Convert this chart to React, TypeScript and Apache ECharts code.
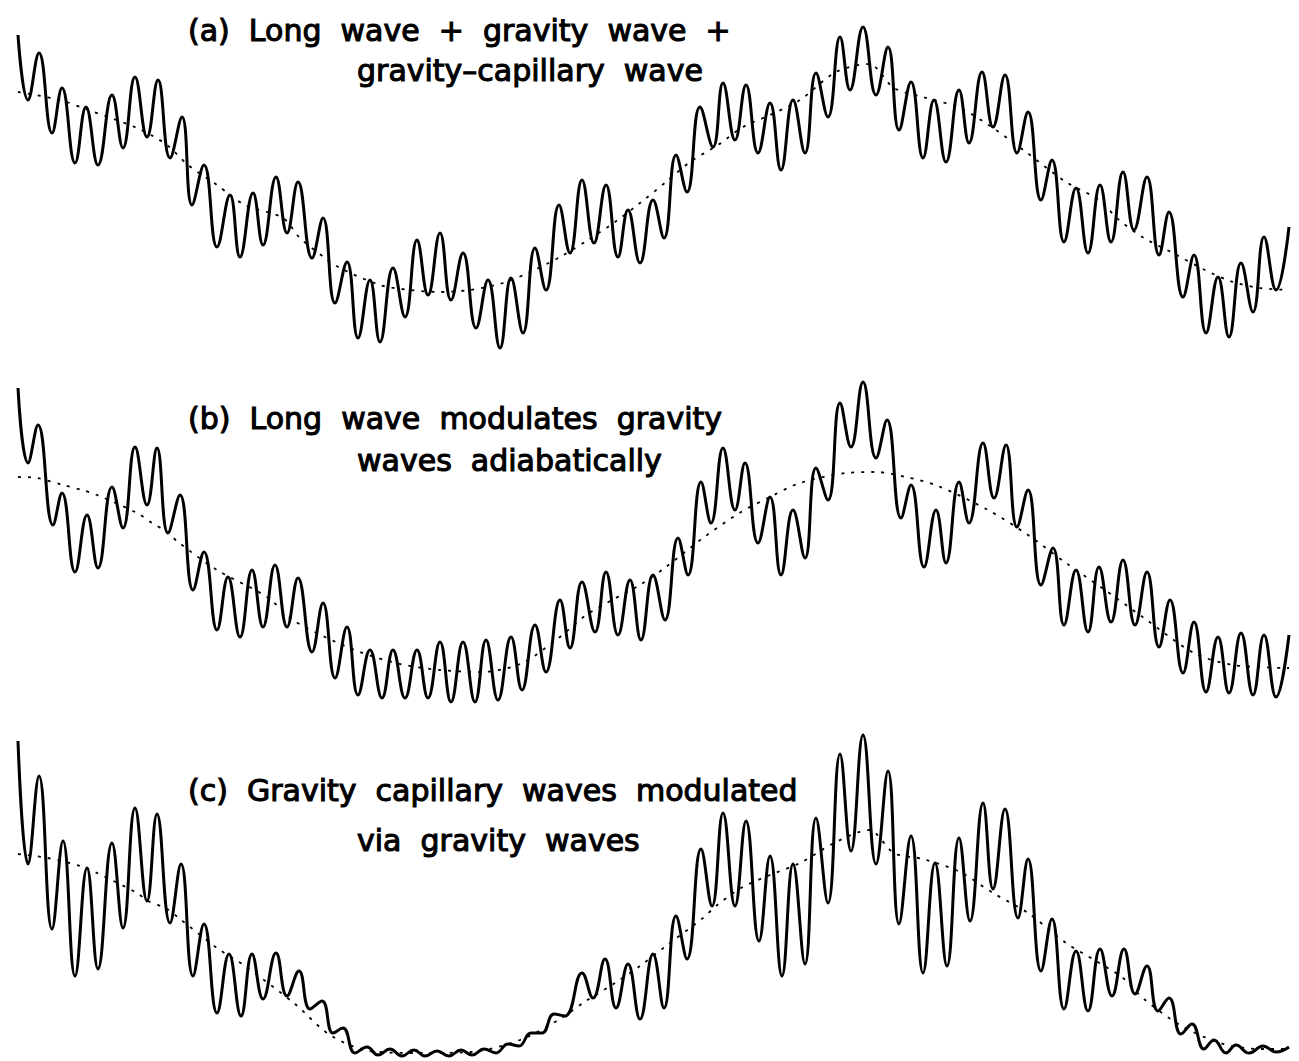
import React, { useEffect, useRef } from "react";
import * as echarts from "echarts";

// Panel (a): long wave + gravity wave + gravity-capillary wave (surface depth, downward units)
const solidA: [number, number][] = [
  [18,35],[28,100],[39,53],[52,133],[62,88],[75,163],[86,107],[98,165],[112,95],[123,148],[135,77],[147,137],[158,80],[170,158],[182,117],[192,205],[204,165],[217,247],[230,195],[240,257],[253,193],[263,245],[276,177],[287,233],[298,182],[312,258],[323,218],[335,303],[347,262],[358,338],[370,280],[380,342],[393,268],[405,317],[417,240],[428,295],[440,233],[451,300],[463,253],[476,328],[488,280],[500,348],[511,278],[523,333],[535,248],[546,290],[559,205],[570,253],[582,180],[594,243],[606,185],[618,257],[628,210],[640,263],[653,200],[664,238],[676,155],[687,192],[700,107],[713,147],[723,83],[735,140],[746,85],[758,153],[770,103],[781,170],[793,100],[805,153],[816,73],[828,117],[840,37],[850,90],[863,27],[876,95],[888,47],[899,130],[911,82],[923,158],[934,100],[946,162],[959,90],[969,143],[982,72],[993,127],[1005,75],[1017,153],[1028,112],[1041,200],[1052,160],[1064,242],[1076,188],[1088,253],[1100,185],[1111,242],[1123,172],[1134,230],[1147,177],[1159,255],[1169,212],[1183,297],[1194,255],[1206,333],[1218,277],[1229,337],[1241,263],[1253,312],[1264,237],[1276,290],[1289,227]
];
const dottedA: [number, number][] = [
  [18,92],[60,100],[88,110],[137,128],[167,145],[188,165],[217,185],[245,205],[283,218],[300,238],[325,258],[340,268],[380,285],[410,290],[440,292],[470,290],[503,283],[530,272],[560,257],[588,240],[615,222],[640,203],[666,182],[690,162],[718,145],[743,127],[770,115],[800,100],[836,72],[869,64],[894,88],[923,97],[960,108],[993,128],[1026,152],[1066,182],[1099,200],[1119,220],[1144,238],[1173,253],[1205,270],[1233,282],[1260,288],[1289,290]
];

// Panel (b): long wave modulates gravity waves adiabatically
const solidB: [number, number][] = [
  [18,388],[28,463],[38,425],[53,525],[62,493],[75,572],[87,515],[98,568],[112,487],[123,528],[135,447],[147,505],[157,448],[168,533],[180,495],[193,590],[204,552],[217,630],[228,577],[240,637],[252,570],[263,627],[275,565],[287,627],[298,578],[312,652],[323,603],[335,678],[347,627],[358,695],[370,650],[382,698],[393,650],[405,698],[417,650],[428,698],[440,642],[451,702],[463,642],[475,702],[486,640],[498,700],[511,637],[522,690],[535,625],[546,672],[560,600],[570,648],[582,582],[595,632],[606,572],[618,635],[630,580],[641,640],[653,575],[665,620],[678,538],[688,575],[701,482],[711,523],[723,448],[735,510],[745,463],[758,543],[770,497],[781,575],[793,510],[805,558],[816,468],[828,500],[840,403],[851,447],[863,382],[876,458],[887,420],[901,518],[911,485],[924,567],[936,510],[946,563],[959,482],[969,523],[983,443],[994,498],[1006,445],[1017,527],[1028,490],[1041,585],[1053,548],[1064,625],[1076,570],[1088,632],[1099,567],[1111,622],[1123,560],[1135,625],[1147,572],[1159,647],[1170,600],[1183,673],[1194,622],[1206,692],[1218,637],[1229,693],[1241,633],[1253,695],[1264,635],[1276,697],[1289,635]
];
const dottedB: [number, number][] = [
  [18,477],[37,478],[63,485],[82,490],[97,495],[137,513],[152,523],[167,532],[178,542],[217,570],[267,597],[293,620],[325,637],[360,652],[400,664],[440,670],[480,672],[520,664],[556,640],[585,616],[612,600],[640,585],[666,567],[703,538],[741,512],[770,497],[800,483],[846,473],[876,472],[906,477],[938,486],[988,510],[1028,535],[1066,563],[1105,590],[1144,618],[1194,653],[1233,665],[1289,668]
];

// Panel (c): gravity capillary waves modulated via gravity waves
const solidC: [number, number][] = [
  [18,741],[28,864],[39,776],[52,929],[63,841],[75,976],[87,868],[98,969],[112,843],[123,928],[135,808],[147,901],[157,814],[170,923],[181,864],[193,976],[204,924],[217,1013],[229,954],[241,1016],[252,954],[263,999],[276,953],[287,996],[299,971],[310,1009],[322,1001],[333,1033],[343,1028],[355,1053],[367,1047],[378,1055],[390,1049],[402,1056],[414,1050],[425,1056],[437,1051],[449,1056],[461,1050],[472,1055],[484,1049],[496,1053],[508,1044],[519,1046],[531,1033],[542,1033],[554,1014],[565,1016],[582,973],[593,998],[605,959],[616,1008],[628,964],[640,1019],[653,954],[664,1008],[676,916],[687,959],[701,849],[712,906],[723,813],[735,906],[746,821],[759,941],[770,856],[782,976],[793,864],[805,964],[816,818],[828,903],[840,754],[851,851],[863,735],[876,864],[888,771],[899,924],[911,836],[923,973],[935,863],[947,966],[959,838],[970,921],[983,803],[993,889],[1005,809],[1018,918],[1028,859],[1041,971],[1052,919],[1064,1009],[1076,951],[1088,1011],[1100,949],[1112,996],[1124,949],[1135,994],[1147,966],[1158,1011],[1169,998],[1181,1034],[1192,1024],[1204,1049],[1214,1040],[1226,1053],[1236,1045],[1249,1053],[1263,1046],[1276,1052],[1289,1047]
];
const dottedC: [number, number][] = [
  [18,854],[48,858],[80,866],[97,873],[137,893],[148,901],[167,909],[180,919],[217,948],[245,966],[295,1004],[330,1035],[370,1051],[420,1053],[470,1052],[520,1040],[560,1019],[586,1001],[615,983],[640,966],[666,946],[703,918],[716,906],[741,888],[770,875],[800,863],[836,842],[869,830],[894,853],[923,859],[960,872],[993,893],[1028,913],[1066,943],[1096,961],[1123,978],[1144,999],[1180,1025],[1220,1043],[1260,1049],[1289,1049]
];

const labelsA = ["(a)  Long  wave  +  gravity  wave  +", "gravity–capillary  wave"];
const labelsB = ["(b)  Long  wave  modulates  gravity", "waves  adiabatically"];
const labelsC = ["(c)  Gravity  capillary  waves  modulated", "via  gravity  waves"];

// panel ranges (depth units), one per panel
const panelRanges: [number, number][] = [[0, 360], [360, 715], [715, 1061]];

const W = 1299;
const H = 1061;

export default function App() {
  const ref = useRef<HTMLDivElement>(null);
  useEffect(() => {
    if (!ref.current) return;
    const chart = echarts.init(ref.current, undefined, { renderer: "svg" });
    const solids = [solidA, solidB, solidC];
    const dots = [dottedA, dottedB, dottedC];
    const labels = [labelsA, labelsB, labelsC];
    const labelY = [[30, 70], [418, 460], [790, 840]];
    const grids = panelRanges.map(([a, b]) => ({
      left: 0, right: 0, top: (a / H) * 100 + "%", height: ((b - a) / H) * 100 + "%", containLabel: false,
    }));
    const xAxes = panelRanges.map((_, i) => ({ type: "value", gridIndex: i, min: 0, max: W, show: false }));
    const yAxes = panelRanges.map(([a, b], i) => ({ type: "value", gridIndex: i, min: a, max: b, inverse: true, show: false }));
    const series: any[] = [];
    for (let i = 0; i < 3; i++) {
      series.push({
        type: "line", xAxisIndex: i, yAxisIndex: i, data: dots[i], showSymbol: false, smooth: 0.3,
        lineStyle: { color: "#000", width: 1.8, type: [3, 7] }, silent: true, clip: false,
      });
      series.push({
        type: "line", xAxisIndex: i, yAxisIndex: i, data: solids[i], showSymbol: false, smooth: 0.45,
        lineStyle: { color: "#000", width: 3 }, silent: true, clip: false,
      });
    }
    const graphic: any[] = [];
    const textStyle = { fill: "#000", font: '30px "DejaVu Sans"', textVerticalAlign: "middle", textAlign: "left", stroke: "#000", lineWidth: 1.1 };
    for (let i = 0; i < 3; i++) {
      graphic.push({ type: "text", x: 188, y: labelY[i][0], style: { ...textStyle, text: labels[i][0] } });
      graphic.push({ type: "text", x: 357, y: labelY[i][1], style: { ...textStyle, text: labels[i][1] } });
    }
    chart.setOption({
      animation: false,
      backgroundColor: "#fff",
      grid: grids,
      xAxis: xAxes,
      yAxis: yAxes,
      series,
      graphic,
    });
    return () => chart.dispose();
  }, []);
  return <div ref={ref} style={{ position: "fixed", left: 0, top: 0, width: W, height: H, background: "#fff" }} />;
}
